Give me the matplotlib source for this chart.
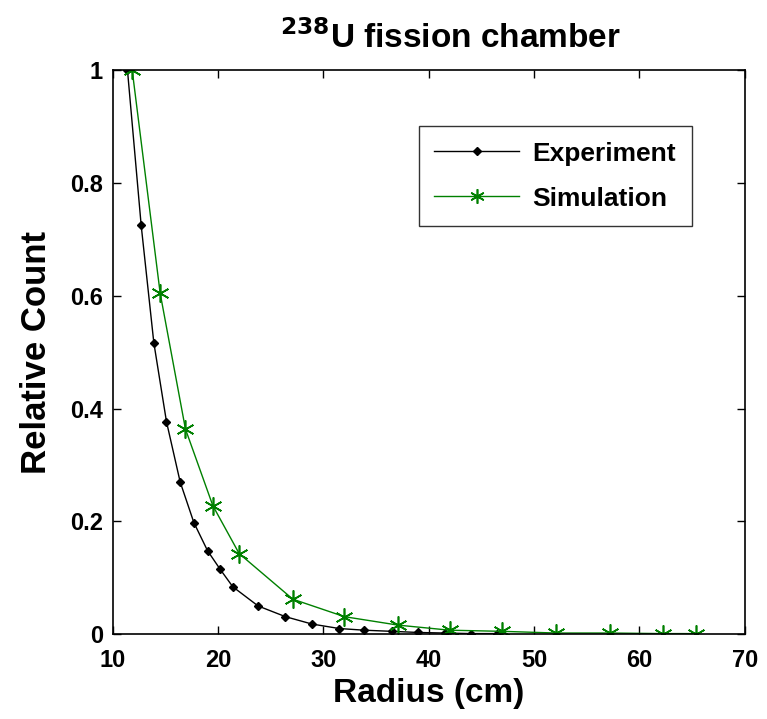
import matplotlib
matplotlib.use("Agg")
import matplotlib.pyplot as plt

plt.rcParams.update({
    "font.family": ["Liberation Sans", "DejaVu Sans"],
    "font.weight": "bold",
    "axes.labelweight": "bold",
    "axes.titleweight": "bold",
})

# --- data ---
exp_radius = [11.4, 12.7, 13.9, 15.1, 16.4, 17.7, 19.0, 20.2, 21.4, 23.8,
              26.4, 28.9, 31.5, 33.9, 36.5, 39.0, 41.5, 44.0, 46.5]
exp_count = [1.0, 0.725, 0.517, 0.377, 0.270, 0.198, 0.148, 0.115, 0.084, 0.050,
             0.031, 0.018, 0.010, 0.007, 0.005, 0.003, 0.002, 0.001, 0.001]

sim_radius = [11.85, 14.5, 16.9, 19.5, 22.0, 27.1, 32.0, 37.1, 42.0, 47.0,
              52.1, 57.2, 62.2, 65.4]
sim_count = [1.0, 0.605, 0.364, 0.228, 0.143, 0.062, 0.031, 0.016, 0.007, 0.005,
             0.002, 0.002, 0.001, 0.001]

green = "#008000"

fig = plt.figure(figsize=(7.67, 7.19), dpi=100)
ax = fig.add_axes([0.147, 0.118, 0.824, 0.784])

ax.plot(exp_radius, exp_count, color="black", linewidth=1.0,
        marker="D", markersize=4.5, label="Experiment")
ax.plot(sim_radius, sim_count, color=green, linewidth=1.0,
        marker=(6, 2, 0), markersize=13, markeredgewidth=1.2, label="Simulation")

ax.set_xlim(10, 70)
ax.set_ylim(0, 1)
ax.set_xticks([10, 20, 30, 40, 50, 60, 70])
ax.set_yticks([0, 0.2, 0.4, 0.6, 0.8, 1])
ax.set_yticklabels(["0", "0.2", "0.4", "0.6", "0.8", "1"])
ax.tick_params(direction="in", top=True, right=True, labelsize=17, length=6, width=1)
ax.tick_params(axis="x", pad=11)
ax.tick_params(axis="y", pad=7)
for spine in ax.spines.values():
    spine.set_linewidth(1.2)

ax.set_xlabel("Radius (cm)", fontsize=24, labelpad=4)
ax.set_ylabel("Relative Count", fontsize=25, labelpad=12)
ax.set_title("$\\mathbf{^{238}}$U fission chamber", fontsize=24, pad=16, x=0.535)

leg = ax.legend(loc="upper left", bbox_to_anchor=(0.484, 0.902), borderaxespad=0,
                fontsize=19, frameon=True, fancybox=False, edgecolor="black",
                handlelength=3.2, handletextpad=0.5, borderpad=0.6, labelspacing=0.8,
                markerscale=0.8)
leg.get_frame().set_linewidth(1.0)

fig.savefig("out.png", dpi=100)
